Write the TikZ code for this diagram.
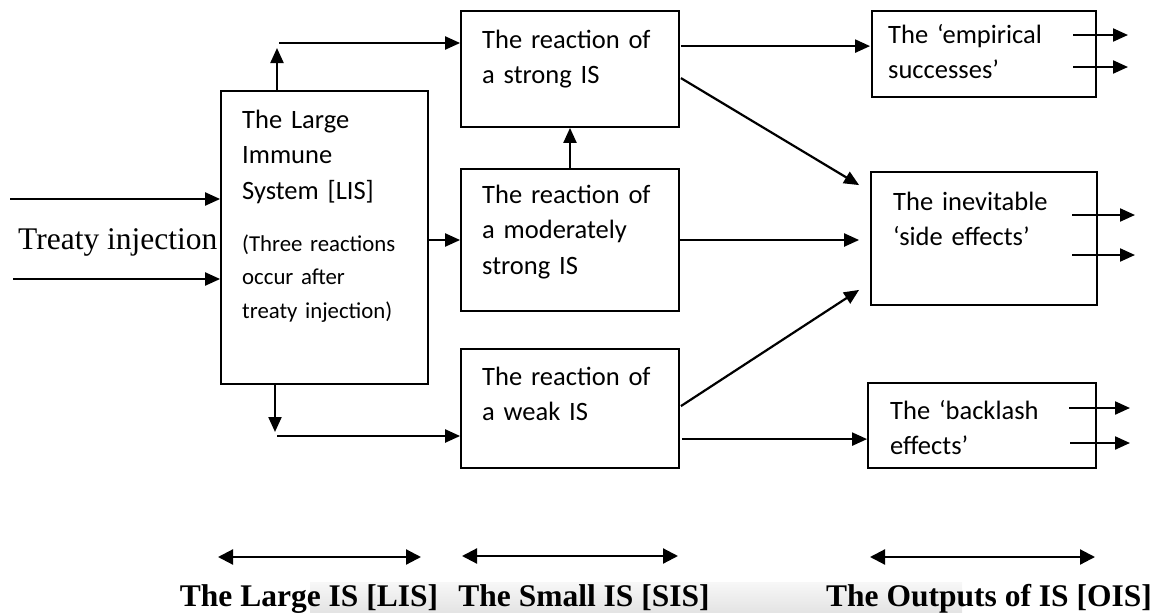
\documentclass[tikz,border=0pt]{standalone}
\usepackage{fontspec}
\setmainfont{Liberation Serif}
\newfontfamily\calib{Carlito}
\usetikzlibrary{arrows.meta,calc}
\begin{document}
\begin{tikzpicture}[x=1pt,y=-1pt,
  box/.style={draw, line width=1.8pt, inner sep=0pt, rectangle},
  arr/.style={line width=2.2pt, -{Triangle[length=15pt,width=13pt]}},
  dbl/.style={line width=2.2pt, {Triangle[length=15pt,width=15pt]}-{Triangle[length=15pt,width=15pt]}},
  btext/.style={anchor=base west, inner sep=0pt, align=left, font=\calib\fontsize{26.5}{35.5}\selectfont},
  stext/.style={anchor=base west, inner sep=0pt, align=left, font=\calib\fontsize{22.8}{33.5}\selectfont},
  ttext/.style={inner sep=0pt, font=\fontsize{31.5}{36}\selectfont},
  ltext/.style={anchor=base, inner sep=0pt, font=\bfseries\fontsize{31.5}{36}\selectfont}]
\useasboundingbox (0,0) rectangle (1157,613);
% faint band at bottom
\shade[top color=black!3, bottom color=black!11, draw=none] (310,582) rectangle (962,613);
% boxes
\node[box, minimum width=207pt, minimum height=293pt] (lis) at (324.5,237.5) {};
\node[box, minimum width=218pt, minimum height=116pt] (strong) at (570,69) {};
\node[box, minimum width=218pt, minimum height=142pt] (moderate) at (570,240) {};
\node[box, minimum width=218pt, minimum height=119pt] (weak) at (570,408.5) {};
\node[box, minimum width=224pt, minimum height=86pt] (empirical) at (984,54) {};
\node[box, minimum width=226pt, minimum height=133pt] (inevitable) at (984,238.5) {};
\node[box, minimum width=228pt, minimum height=85pt] (backlash) at (982,425.5) {};
% box texts
\node[btext, text width=180pt] (listxt) at (242,128) {The Large\\Immune\\System [LIS]};
\node[stext, text width=185pt] (lisnote) at (242,251) {(Three reactions\\occur after\\treaty injection)};
\node[btext, text width=195pt] (strongtxt) at (482,48) {The reaction of\\a strong IS};
\node[btext, text width=195pt] (moderatetxt) at (482,203) {The reaction of\\a moderately\\strong IS};
\node[btext, text width=195pt] (weaktxt) at (482,385) {The reaction of\\a weak IS};
\node[btext, text width=200pt] (empiricaltxt) at (888,43) {The ‘empirical\\successes’};
\node[btext, text width=200pt] (inevitabletxt) at (893,210) {The inevitable\\‘side effects’};
\node[btext, text width=200pt] (backlashtxt) at (890,419) {The ‘backlash\\effects’};
% treaty injection
\node[ttext, anchor=base west] (treaty) at (18,249) {Treaty injection};
\coordinate (t1) at (10,199);
\coordinate (t2) at (13,279);
\draw[arr] (t1) -- (t1 -| lis.west);
\draw[arr] (t2) -- (t2 -| lis.west);
% LIS outputs
\coordinate (lisup) at (277,48);
\draw[arr] (lisup |- lis.north) -- (lisup);
\coordinate (strin) at (279,43);
\draw[arr] (strin) -- (strin -| strong.west);
\draw[arr] (lis.east |- moderate.west) -- (moderate.west);
\coordinate (lisdn) at (275,432);
\draw[arr] (lisdn |- lis.south) -- (lisdn);
\coordinate (weakin) at (277,436);
\draw[arr] (weakin) -- (weakin -| weak.west);
% SIS internal
\draw[arr] (moderate.north) -- (strong.south);
% SIS to outputs
\coordinate (s1) at ($(strong.north east)+(1,36)$);
\draw[arr] (s1) -- ($(s1 -| empirical.west)+(-1,0)$);
\draw[arr] ($(strong.north east)+(1,68)$) -- ($(inevitable.north west)+(-11,14)$);
\draw[arr] (moderate.east) -- ($(moderate.east -| inevitable.west)+(-11,0)$);
\draw[arr] ($(weak.north east)+(1,58)$) -- ($(inevitable.south west)+(-11,-16)$);
\coordinate (w1) at ($(weak.north east)+(2,91)$);
\draw[arr] (w1) -- (w1 -| backlash.west);
% outputs' outgoing arrows
\coordinate (e1) at (1073,35); \coordinate (e1e) at (1128,35);
\coordinate (e2) at (1073,67); \coordinate (e2e) at (1128,67);
\coordinate (i1) at (1072,215); \coordinate (i1e) at (1135,215);
\coordinate (i2) at (1072,255); \coordinate (i2e) at (1135,255);
\coordinate (b1) at (1069,408); \coordinate (b1e) at (1130,408);
\coordinate (b2) at (1070,443); \coordinate (b2e) at (1130,443);
\draw[arr] (e1) -- (e1e);
\draw[arr] (e2) -- (e2e);
\draw[arr] (i1) -- (i1e);
\draw[arr] (i2) -- (i2e);
\draw[arr] (b1) -- (b1e);
\draw[arr] (b2) -- (b2e);
% bottom spans
\coordinate (d1a) at (218,557); \coordinate (d1b) at (421,557);
\coordinate (d2a) at (462,556); \coordinate (d2b) at (678,556);
\coordinate (d3a) at (870,557); \coordinate (d3b) at (1095,557);
\draw[dbl] (d1a) -- (d1b);
\draw[dbl] (d2a) -- (d2b);
\draw[dbl] (d3a) -- (d3b);
\node[ltext] (lbl1) at (309,606) {The Large IS [LIS]};
\node[ltext] (lbl2) at (584,606) {The Small IS [SIS]};
\node[ltext] (lbl3) at (989,606) {The Outputs of IS [OIS]};
\end{tikzpicture}
\end{document}
